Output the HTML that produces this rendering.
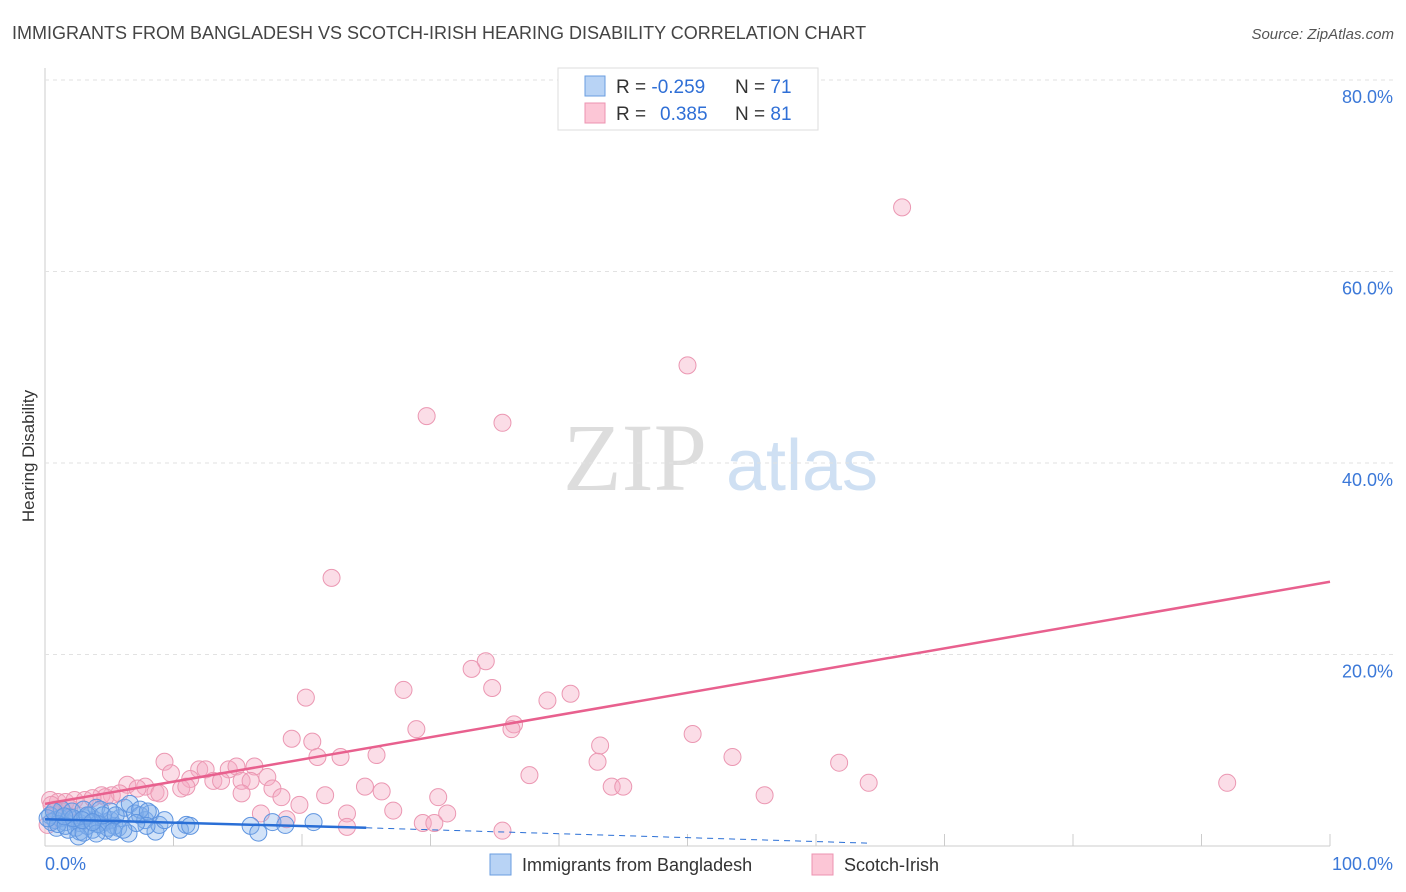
<!DOCTYPE html>
<html><head><meta charset="utf-8"><style>
body{margin:0;background:#fff;font-family:"Liberation Sans",sans-serif;}
svg{display:block}
</style></head><body>
<svg id="chart" width="1406" height="892" viewBox="0 0 1406 892" xmlns="http://www.w3.org/2000/svg" font-family="Liberation Sans, sans-serif">
<text x="12" y="39" font-size="18" fill="#444">IMMIGRANTS FROM BANGLADESH VS SCOTCH-IRISH HEARING DISABILITY CORRELATION CHART</text>
<text x="1394" y="39" font-size="15" fill="#555" font-style="italic" text-anchor="end">Source: ZipAtlas.com</text>
<text transform="translate(34,456) rotate(-90)" font-size="17" fill="#333" text-anchor="middle">Hearing Disability</text>
<g>
<text x="635" y="490" font-size="96" font-family="Liberation Serif, serif" fill="#ddd" text-anchor="middle">ZIP</text>
<text x="802" y="490" font-size="72" fill="#cfe0f3" text-anchor="middle">atlas</text>
</g>
<g id="grid"></g>
<g id="marks"></g>
<g id="lines"></g>
<g>
<rect x="558" y="68" width="260" height="62" fill="#fff" stroke="#ddd"/>
<rect x="585" y="76" width="20" height="20" fill="#b8d3f5" stroke="#6a9ee0"/>
<rect x="585" y="103" width="20" height="20" fill="#fcc6d6" stroke="#ec93b0"/>
<text x="616" y="93" font-size="19" fill="#333">R = <tspan fill="#2f6fd6">-0.259</tspan><tspan x="735">N = </tspan><tspan fill="#2f6fd6">71</tspan></text>
<text x="616" y="120" font-size="19" fill="#333">R = <tspan fill="#2f6fd6" x="660">0.385</tspan><tspan x="735">N = </tspan><tspan fill="#2f6fd6">81</tspan></text>
</g>
<g>
<rect x="490" y="854" width="21" height="21" fill="#b8d3f5" stroke="#6a9ee0"/>
<text x="522" y="871" font-size="18" fill="#333">Immigrants from Bangladesh</text>
<rect x="812" y="854" width="21" height="21" fill="#fcc6d6" stroke="#ec93b0"/>
<text x="844" y="871" font-size="18" fill="#333">Scotch-Irish</text>
</g>
</svg>
<script>
const yTicks=[20,40,60,80];
const yTickLabels=["20.0%","40.0%","60.0%","80.0%"];
const xTickLabels=["0.0%","100.0%"];
const pinkX=[66.7,50.0,29.7,35.6,22.3,34.3,33.2,34.8,27.9,40.9,39.1,20.3,28.9,36.5,36.3,19.2,20.8,43.2,50.4,9.3,53.5,61.8,21.2,23.0,25.8,92.0,64.1,37.7,43.0,44.1,45.0,9.8,12.0,12.5,14.3,14.9,16.3,11.3,13.1,13.7,15.3,17.3,17.7,16.0,6.4,7.8,10.6,11.0,8.6,8.9,7.2,5.2,5.8,4.4,4.7,15.3,18.4,21.8,24.9,26.2,56.0,30.6,19.8,16.8,23.5,27.1,31.3,29.4,30.3,23.5,35.6,18.8,0.4,1.0,1.6,2.3,3.1,3.7,0.8,1.3,0.2,0.5,1.9];
const pinkY=[66.7,50.2,44.9,44.2,28.0,19.3,18.5,16.5,16.3,15.9,15.2,15.5,12.2,12.7,12.2,11.2,10.9,10.5,11.7,8.8,9.3,8.7,9.3,9.3,9.5,6.6,6.6,7.4,8.8,6.2,6.2,7.6,8.0,8.0,8.0,8.3,8.3,7.0,6.8,6.8,6.8,7.2,6.0,6.8,6.4,6.2,6.0,6.2,5.6,5.5,6.0,5.3,5.5,5.3,5.1,5.5,5.1,5.3,6.2,5.7,5.3,5.1,4.3,3.4,3.4,3.7,3.4,2.4,2.4,2.0,1.6,2.8,4.8,4.6,4.6,4.8,4.8,5.0,3.8,3.6,2.2,4.3,4.0];
const blueX=[0.4,0.8,1.2,1.6,1.9,2.3,2.7,3.1,3.5,3.9,4.3,4.7,5.1,5.4,5.8,6.2,6.6,7.0,7.4,7.8,8.2,8.6,8.9,9.3,10.5,11.0,11.3,16.0,16.6,17.7,18.7,20.9,0.9,1.8,2.7,3.7,4.7,5.7,6.5,1.3,2.1,3.0,4.0,4.3,5.1,7.4,8.0,7.9,0.5,1.0,1.6,2.4,3.3,4.1,4.9,2.6,3.0,4.0,5.3,7.1,2.2,3.3,4.5,5.5,6.1,0.2,0.7,1.5,2.9,3.7];
const blueY=[3.2,2.7,2.9,2.5,3.0,2.7,2.4,2.9,3.2,2.7,2.2,2.5,2.7,2.1,2.9,4.0,4.4,3.4,3.2,2.7,3.4,1.5,2.2,2.7,1.7,2.2,2.1,2.1,1.4,2.5,2.2,2.5,1.9,1.7,1.5,1.7,1.6,1.9,1.3,3.8,3.6,3.8,4.0,3.8,3.6,3.8,3.6,2.1,2.5,2.3,2.1,1.9,2.1,2.3,1.9,1.0,1.4,1.3,1.5,2.4,2.9,3.2,3.2,3.2,1.7,2.9,3.6,3.1,2.7,2.5];
const pinkTrend=[4.4,27.6];
const blueTrend=[2.8,1.9,0.3];
const NS="http://www.w3.org/2000/svg";
const X=v=>45+v*12.85, Y=v=>846-v*9.575;
function mk(tag,attrs,parent){const e=document.createElementNS(NS,tag);for(const k in attrs)e.setAttribute(k,attrs[k]);parent.appendChild(e);return e;}
const grid=document.getElementById('grid'),marks=document.getElementById('marks'),lines=document.getElementById('lines');
mk('line',{x1:45,y1:68,x2:45,y2:846,stroke:'#ccc'},grid);
mk('line',{x1:45,y1:846,x2:1330,y2:846,stroke:'#ccc'},grid);
for(let i=1;i<=10;i++){const t=mk('line',{x1:X(i*10),y1:834,x2:X(i*10),y2:846,stroke:'#ccc'},grid);

}
yTicks.forEach((v,i)=>{const g=mk('line',{x1:45,y1:Y(v),x2:1393,y2:Y(v),stroke:'#e2e2e2','stroke-dasharray':'4,4'},grid);


const t=mk('text',{x:1393,y:Y(v)+23,'font-size':18,fill:'#3b78d8','text-anchor':'end'},grid);t.textContent=yTickLabels[i];

});
const xl0=mk('text',{x:45,y:870,'font-size':18,fill:'#3b78d8'},grid);xl0.textContent=xTickLabels[0];


const xl1=mk('text',{x:1393,y:870,'font-size':18,fill:'#3b78d8','text-anchor':'end'},grid);xl1.textContent=xTickLabels[1];


pinkX.forEach((v,i)=>{const c=mk('circle',{cx:X(v),cy:Y(pinkY[i]),r:8.5,fill:'rgba(246,170,194,0.4)',stroke:'#eb97b2','stroke-width':1},marks);

});
blueX.forEach((v,i)=>{const c=mk('circle',{cx:X(v),cy:Y(blueY[i]),r:8.5,fill:'rgba(130,175,235,0.35)',stroke:'#5f95e0','stroke-width':1},marks);

});
const pl=mk('line',{x1:X(0),y1:Y(pinkTrend[0]),x2:X(100),y2:Y(pinkTrend[1]),stroke:'#e8608e','stroke-width':2.5},lines);


const bl=mk('line',{x1:X(0),y1:Y(blueTrend[0]),x2:X(25),y2:Y(blueTrend[1]),stroke:'#2a6fd6','stroke-width':2.5},lines);


const bd=mk('line',{x1:X(25),y1:Y(blueTrend[1]),x2:X(64),y2:Y(blueTrend[2]),stroke:'#2a6fd6','stroke-width':1,'stroke-dasharray':'6,5'},lines);


</script>
</body></html>
